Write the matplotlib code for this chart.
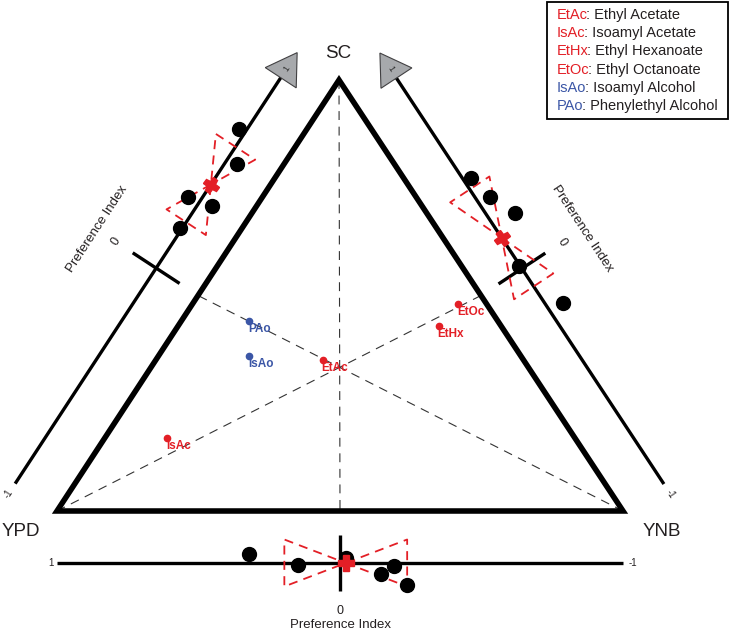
import numpy as np
import matplotlib
matplotlib.use('Agg')
import matplotlib.pyplot as plt
from matplotlib.markers import MarkerStyle
from matplotlib.transforms import Affine2D
from matplotlib.patches import Polygon, Rectangle

plt.rcParams['font.family'] = ['Liberation Sans', 'DejaVu Sans']

# ---------------- data ----------------
vertex_labels = ['SC', 'YPD', 'YNB']

compounds = ['EtAc', 'IsAc', 'EtHx', 'EtOc', 'IsAo', 'PAo']
compound_names = ['Ethyl Acetate', 'Isoamyl Acetate', 'Ethyl Hexanoate',
                  'Ethyl Octanoate', 'Isoamyl Alcohol', 'Phenylethyl Alcohol']
compound_class = ['ester', 'ester', 'ester', 'ester', 'alcohol', 'alcohol']
frac_SC = [0.35, 0.17, 0.43, 0.48, 0.36, 0.44]
frac_YPD = [0.355, 0.72, 0.11, 0.05, 0.48, 0.44]
frac_YNB = [0.295, 0.11, 0.46, 0.47, 0.16, 0.12]

# preference index replicates for each pair of media
pi_sc_ypd = [0.63, 0.51, 0.30, 0.32, 0.18]
pi_sc_ynb = [0.40, 0.30, 0.195, 0.016, -0.20]
pi_ypd_ynb = [0.32, 0.15, -0.02, -0.145, -0.19, -0.237]
# half-width of the confidence interval
ci_sc_ypd = 0.175
ci_sc_ynb = 0.225
ci_ypd_ynb = 0.217
# visual scatter of replicate dots across the axis (pixels)
jit_sc_ypd = [7, -11, 12.5, -12.5, 2]
jit_sc_ynb = [7.3, 12.2, 24.8, -0.9, 15.1]
jit_ypd_ynb = [-9, 2, -5, 11, 3, 22]

RED = '#e31f26'
BLUE = '#3b56a6'
TXT = '#231f20'

# ---------------- figure ----------------
fig = plt.figure(figsize=(7.32, 6.31), dpi=100)
ax = fig.add_axes([0, 0, 1, 1])
ax.set_xlim(0, 732)
ax.set_ylim(631, 0)
ax.axis('off')

V = {'SC': np.array([339., 80.]), 'YPD': np.array([57., 511.]),
     'YNB': np.array([623., 511.])}
centroid = (V['SC'] + V['YPD'] + V['YNB']) / 3


def frame(a, b, off):
    A, B = V[a], V[b]
    mid = (A + B) / 2
    half = (B - A) / 2
    L = np.linalg.norm(half)
    u = half / L
    n = np.array([-u[1], u[0]])
    if np.dot(n, mid - centroid) < 0:
        n = -n
    return dict(zero=mid + off * n, half=half, u=u, n=n, L=L)


def P(f, v, w=0.0):
    return f['zero'] + v * f['half'] + w * f['n']


def angle(f):
    u = f['u']
    return np.degrees(np.arctan2(-u[1], u[0]))


def textrot(f):
    a = angle(f)
    if a > 90:
        a -= 180
    if a < -90:
        a += 180
    return a


# dashed medians
for k, (a, b) in {'SC': ('YPD', 'YNB'), 'YPD': ('SC', 'YNB'), 'YNB': ('SC', 'YPD')}.items():
    m = (V[a] + V[b]) / 2
    ax.plot([V[k][0], m[0]], [V[k][1], m[1]], color='#333333', lw=0.8,
            ls=(0, (8, 6)), zorder=1)

# triangle
tri = Polygon([V['SC'], V['YPD'], V['YNB']], closed=True, fill=False,
              ec='black', lw=4, joinstyle='miter', zorder=3)
ax.add_patch(tri)

# vertex labels
ax.text(338, 54, 'SC', fontsize=13.5, ha='center', va='center', color=TXT)
ax.text(21, 531, 'YPD', fontsize=13.5, ha='center', va='center', color=TXT)
ax.text(662, 531, 'YNB', fontsize=13.5, ha='center', va='center', color=TXT)

# ternary compounds
for name, cls, a, b, c in zip(compounds, compound_class, frac_SC, frac_YPD, frac_YNB):
    s = a + b + c
    p = (a * V['SC'] + b * V['YPD'] + c * V['YNB']) / s
    col = RED if cls == 'ester' else BLUE
    ax.plot(p[0], p[1], 'o', ms=4.5, color=col, zorder=5)
    ax.text(p[0] - 1, p[1] + 2, name, color=col, fontsize=8.5,
            fontweight='bold', ha='left', va='top', zorder=5)

# preference-index axes
axes_def = [
    (frame('YPD', 'SC', 50), pi_sc_ypd, jit_sc_ypd, ci_sc_ypd, True, 71),
    (frame('YNB', 'SC', 49), pi_sc_ynb, jit_sc_ynb, ci_sc_ynb, True, 72),
    (frame('YNB', 'YPD', 52), pi_ypd_ynb, jit_ypd_ynb, ci_ypd_ynb, False, 62),
]

for f, vals, jit, ci, arrow, lab_off in axes_def:
    L = f['L']
    rot = textrot(f)
    p0 = P(f, -1)
    if arrow:
        p1 = f['zero'] + (L - 24) * f['u']
    else:
        p1 = P(f, 1)
    ax.plot([p0[0], p1[0]], [p0[1], p1[1]], color='black', lw=2.4,
            solid_capstyle='butt', zorder=4)
    # zero tick
    t0, t1 = P(f, 0, -28), P(f, 0, 28)
    ax.plot([t0[0], t1[0]], [t0[1], t1[1]], color='black', lw=2.4,
            solid_capstyle='butt', zorder=4)
    # labels
    q = P(f, 0, 48)
    ax.text(q[0], q[1], '0', fontsize=9, rotation=rot, ha='center',
            va='center', color=TXT, rotation_mode='anchor')
    q = P(f, 0, lab_off)
    ax.text(q[0], q[1], 'Preference Index', fontsize=9.5, rotation=rot,
            ha='center', va='center', color=TXT, rotation_mode='anchor')
    if arrow:
        tip = P(f, 1)
        base = f['zero'] + (L - 30) * f['u']
        arr = Polygon([tip, base + 18.5 * f['n'], base - 18.5 * f['n']],
                      closed=True, fc='#a7a9ac', ec='#414042', lw=0.8, zorder=6)
        ax.add_patch(arr)
        q = f['zero'] + (L - 19) * f['u']
        ax.text(q[0], q[1], '1', fontsize=6.5, rotation=rot, ha='center',
                va='center', color='#333333', rotation_mode='anchor', zorder=7)
        q = f['zero'] + (-L - 12) * f['u']
        ax.text(q[0], q[1], '-1', fontsize=7, rotation=rot, ha='center',
                va='center', color=TXT, rotation_mode='anchor')
    else:
        q = f['zero'] + (L + 6) * f['u']
        ax.text(q[0], q[1], '1', fontsize=7, ha='center', va='center', color=TXT)
        q = f['zero'] + (-L - 10) * f['u']
        ax.text(q[0], q[1], '-1', fontsize=7, ha='center', va='center', color=TXT)

    # confidence bow-tie
    m = float(np.mean(vals))
    c = P(f, m)
    bw = 23.5
    pts = np.array([c, P(f, m - ci, bw), P(f, m - ci, -bw), c,
                    P(f, m + ci, bw), P(f, m + ci, -bw), c])
    ax.plot(pts[:, 0], pts[:, 1], color=RED, lw=1.3, ls=(0, (5, 3.5)), zorder=7)

    # replicate dots
    for v, w in zip(vals, jit):
        d = P(f, v, w)
        ax.plot(d[0], d[1], 'o', ms=10, color='black', zorder=8)

    # mean marker
    ms = MarkerStyle('P', transform=Affine2D().rotate_deg(angle(f)))
    ax.plot(c[0], c[1], marker=ms, ms=11, color=RED, mec=RED, zorder=9,
            ls='none')

# legend box
ax.add_patch(Rectangle((547, 2), 181, 117, fill=False, ec='black', lw=1.3,
                       zorder=10))
for i, (ab, nm, cls) in enumerate(zip(compounds, compound_names, compound_class)):
    y = 15 + i * 18.2
    col = RED if cls == 'ester' else BLUE
    t1 = ax.text(557, y, ab, color=col, fontsize=10.5, ha='left', va='center',
                 zorder=11)
    ax.annotate(': ' + nm, xy=(1, 0.5), xycoords=t1, xytext=(-1.2, 0),
                textcoords='offset points', color=TXT, fontsize=10.5,
                ha='left', va='center', zorder=11)

fig.savefig('out.png', dpi=100)
